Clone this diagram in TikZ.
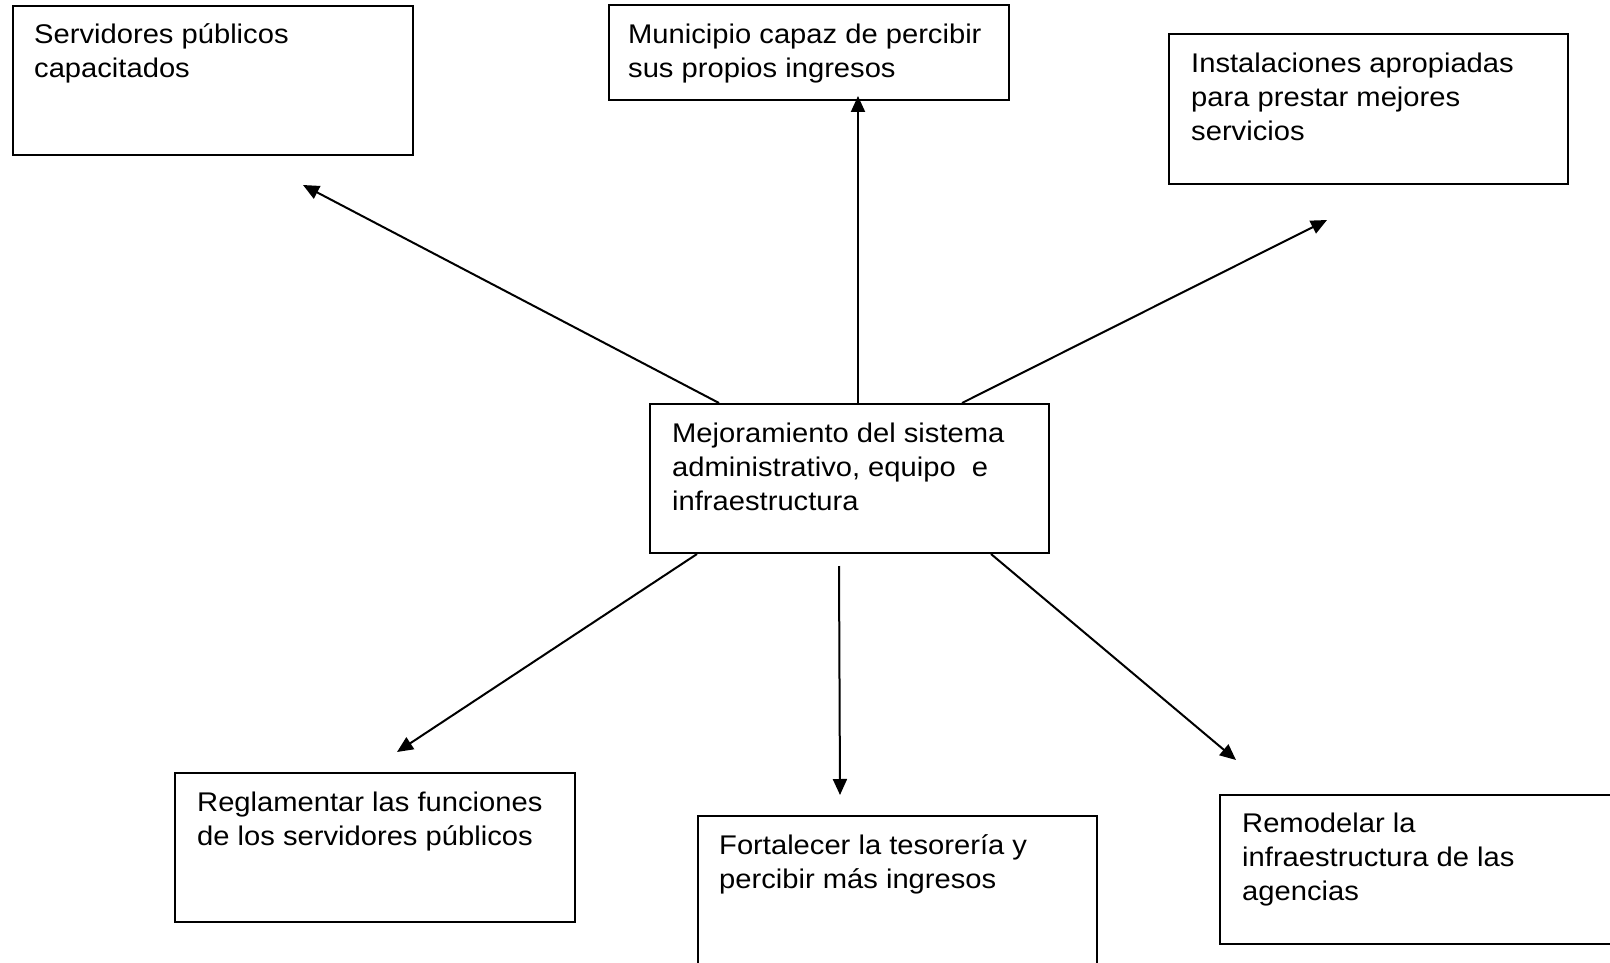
\documentclass[tikz,border=0pt]{standalone}
\usepackage{fontspec}
\setmainfont[FakeStretch=1.08]{Liberation Sans}
\usetikzlibrary{arrows.meta,calc}
\tikzset{
  box/.style={draw=black, line width=2pt, rectangle, inner sep=0pt, fill=none},
  txt/.style={anchor=north west, inner sep=0pt, align=left, font=\fontsize{27}{34}\selectfont},
  conn/.style={line width=2pt, -{Triangle[length=16pt,width=14pt]}}
}
\begin{document}
\begin{tikzpicture}[x=1pt,y=-1pt]
\useasboundingbox (0,0) rectangle (1610,963);
\clip (0,0) rectangle (1610,963);
\fill[white] (0,0) rectangle (1610,963);
% boxes
\node[box, minimum width=400pt, minimum height=149pt] (b1) at (213,80.5) {};
\node[box, minimum width=400pt, minimum height=95pt] (b2) at (809,52.5) {};
\node[box, minimum width=399pt, minimum height=150pt] (b3) at (1368.5,109) {};
\node[box, minimum width=399pt, minimum height=149pt] (c) at (849.5,478.5) {};
\node[box, minimum width=400pt, minimum height=149pt] (b4) at (375,847.5) {};
\node[box, minimum width=399pt, minimum height=184pt] (b5) at (897.5,908) {};
\node[box, minimum width=400pt, minimum height=149pt] (b6) at (1420,869.5) {};
% texts
\node[txt] (t1) at (34,19.2) {\strut Servidores públicos\\capacitados};
\node[txt] (t2) at (628,19.2) {\strut Municipio capaz de percibir\\sus propios ingresos};
\node[txt] (t3) at (1191,48.2) {\strut Instalaciones apropiadas\\para prestar mejores\\servicios};
\node[txt] (tc) at (672,418.2) {\strut Mejoramiento del sistema\\administrativo, equipo\ \ e\\infraestructura};
\node[txt] (t4) at (197,787.2) {\strut Reglamentar las funciones\\de los servidores públicos};
\node[txt] (t5) at (719,830.2) {\strut Fortalecer la tesorería y\\percibir más ingresos};
\node[txt] (t6) at (1242,808.2) {\strut Remodelar la\\infraestructura de las\\agencias};
% arrow tips
\coordinate (e1) at (303,185);
\coordinate (e2) at (858,96);
\coordinate (e3) at (1327,220);
\coordinate (e4) at (397,752);
\coordinate (e5) at (840,795);
\coordinate (e6) at (1236,760);
% connectors
\draw[conn] ($(c.north west)+(70,0)$) -- (e1);
\draw[conn] ($(c.north)+(8.5,0)$) -- (e2);
\draw[conn] ($(c.north west)+(313,0)$) -- (e3);
\draw[conn] ($(c.south west)+(48,0)$) -- (e4);
\draw[conn] ($(c.south west)+(190,12)$) -- (e5);
\draw[conn] ($(c.south west)+(342,0)$) -- (e6);
\end{tikzpicture}
\end{document}
